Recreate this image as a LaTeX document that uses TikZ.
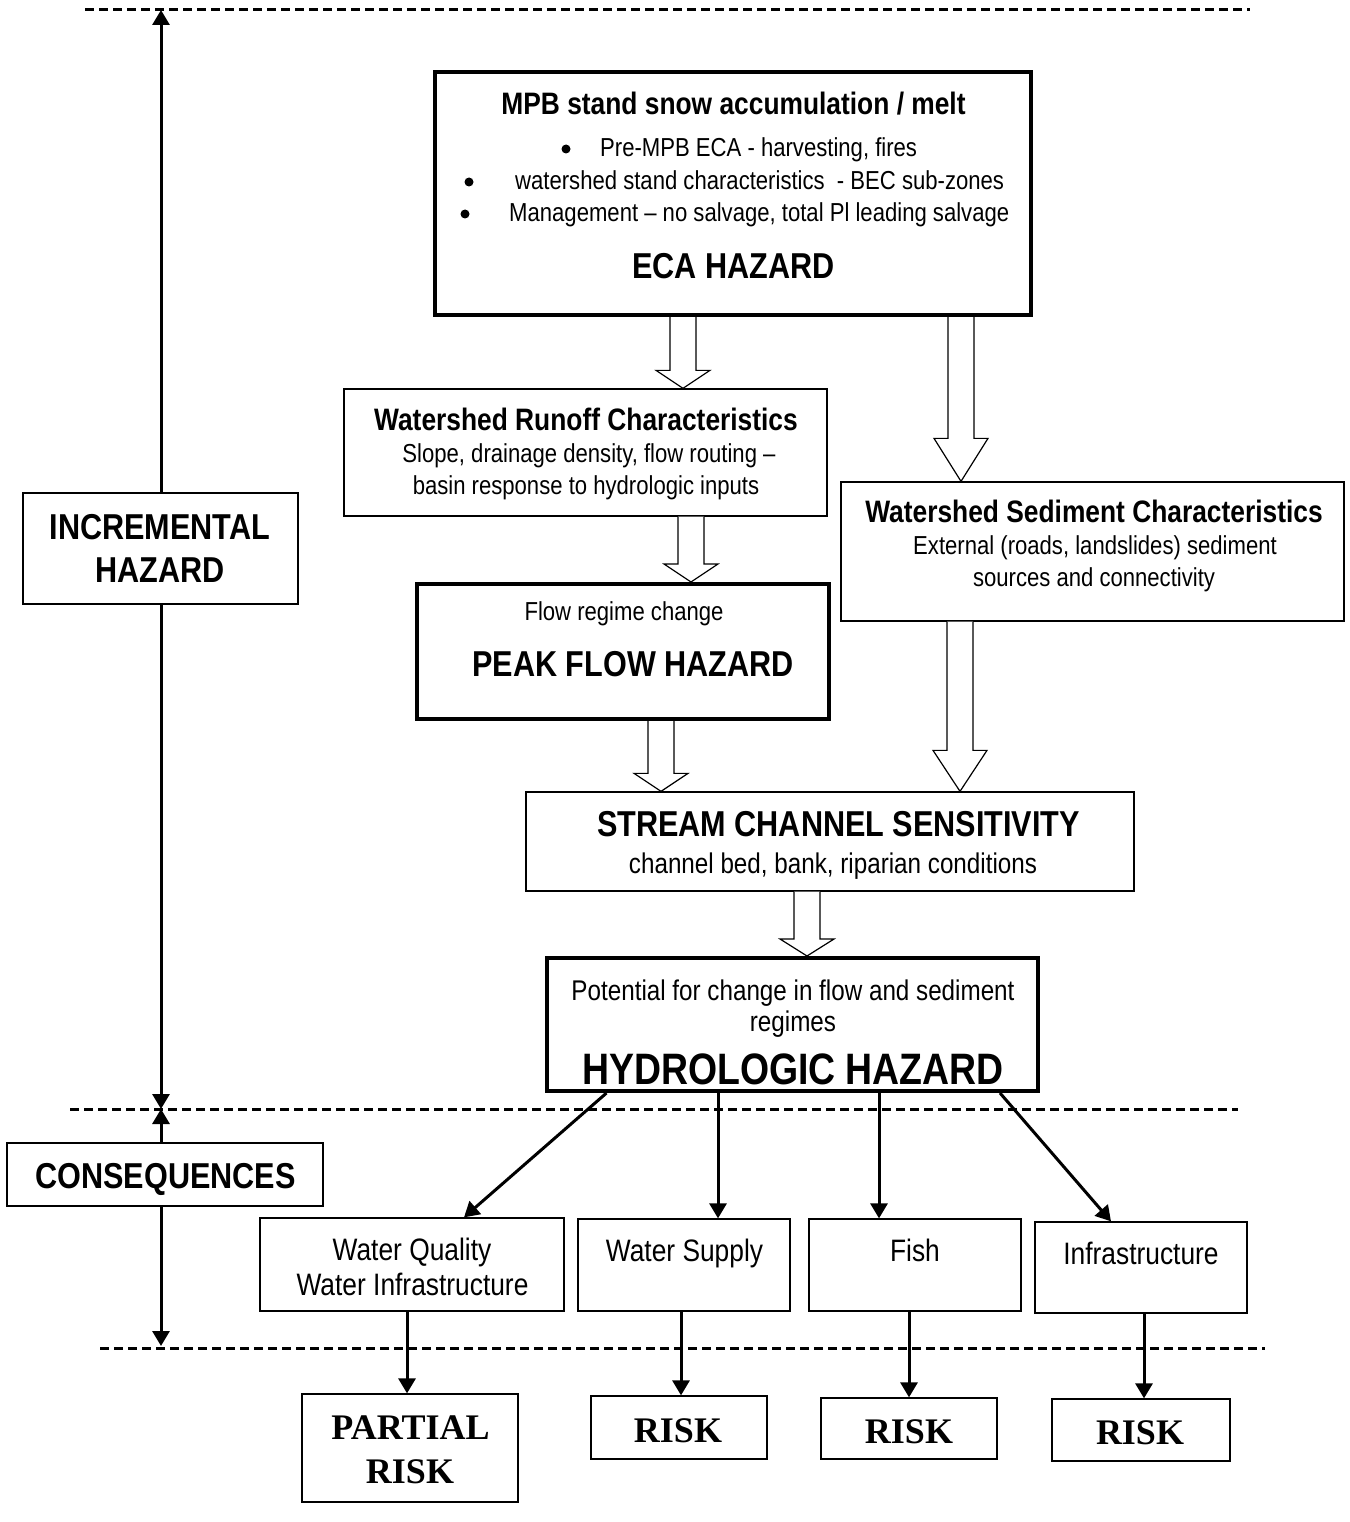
\documentclass[tikz,border=0pt]{standalone}
\usepackage{fontspec}
\setmainfont{Liberation Sans}[FakeStretch=0.85]
\newfontfamily\riskfont{Liberation Serif}
\usetikzlibrary{arrows.meta,calc}

\tikzset{
  box/.style={draw, line width=1.3pt, fill=white, inner sep=0pt},
  thickbox/.style={box, line width=4pt},
  txt/.style={anchor=base, inner sep=0pt},
  body/.style={txt, font=\fontsize{26}{26}\selectfont},
  mid/.style={txt, font=\fontsize{28.5}{28.5}\selectfont},
  cons/.style={txt, font=\fontsize{31}{31}\selectfont},
  ttl/.style={txt, font=\bfseries\fontsize{31}{31}\selectfont},
  big/.style={txt, font=\bfseries\fontsize{36}{36}\selectfont},
  risk/.style={txt, font=\riskfont\bfseries\fontsize{36}{36}\selectfont},
  bul/.style={circle, fill, inner sep=0pt, minimum size=9pt},
  sep/.style={line width=3pt, dash pattern=on 9pt off 5pt},
  arr/.style={line width=3pt, -{Triangle[length=15pt,width=17pt]}},
  fatarrow/.style={draw, line width=1.2pt, fill=white, to path={
    let \p1=(\tikztostart), \p2=(\tikztotarget) in
    (\x1-13pt,\y1) -- (\x1-13pt,\y2+#1) -- (\x1-27pt,\y2+#1) -- (\x1,\y2)
    -- (\x1+27pt,\y2+#1) -- (\x1+13pt,\y2+#1) -- (\x1+13pt,\y1)}},
  fatarrow/.default=18pt
}

\begin{document}
\begin{tikzpicture}[x=1pt,y=-1pt]
\useasboundingbox (0,0) rectangle (1349,1522);

% levels
\path[draw,sep] (85,10) -- (1250,10);
\path[draw,sep] (70,1109) -- (1238,1109);
\path[draw,sep] (100,1348) -- (1265,1348);

\coordinate (lvl-top) at (161,10);
\coordinate (lvl-mid) at (161,1109);
\coordinate (lvl-bot) at (161,1346);
\path[draw,line width=3pt,{Triangle[length=15pt,width=17pt]}-{Triangle[length=15pt,width=17pt]}] (lvl-top) -- (lvl-mid);
\path[draw,line width=3pt,{Triangle[length=15pt,width=17pt]}-{Triangle[length=15pt,width=17pt]}] (lvl-mid) -- (lvl-bot);

\node[box, minimum width=275pt, minimum height=111pt] (incr) at (160.5,548.5) {};
\node[big] (incr-t1) at (160,539) {INCREMENTAL};
\node[big] (incr-t2) at (160,582) {HAZARD};
\node[box, minimum width=316pt, minimum height=63pt] (cons) at (165,1174.5) {};
\node[big] (cons-t) at (165.5,1188) {CONSEQUENCES};

% ECA
\node[thickbox, minimum width=596pt, minimum height=243pt] (eca) at (733,193.5) {};
\node[ttl] (eca-ttl) at (733.5,115) {MPB stand snow accumulation / melt};
\node[bul] (eca-d1) at (566,149) {};
\node[body, anchor=base west] (eca-b1) at (600,157) {Pre-MPB ECA - harvesting, fires};
\node[bul] (eca-d2) at (469,182) {};
\node[body, anchor=base west] (eca-b2) at (515,190) {watershed stand characteristics~ - BEC sub-zones};
\node[bul] (eca-d3) at (465,214) {};
\node[body, anchor=base west] (eca-b3) at (509,222) {Management – no salvage, total Pl leading salvage};
\node[big] (eca-haz) at (733.5,278) {ECA HAZARD};

% runoff and sediment
\node[box, minimum width=483pt, minimum height=127pt] (runoff) at (585.5,452.5) {};
\node[ttl] (runoff-ttl) at (586,430) {Watershed Runoff Characteristics};
\node[body] (runoff-t1) at (589,462) {Slope, drainage density, flow routing –};
\node[body] (runoff-t2) at (586,494) {basin response to hydrologic inputs};

\node[box, minimum width=503pt, minimum height=139pt] (sed) at (1092.5,551.5) {};
\node[ttl] (sed-ttl) at (1094,522) {Watershed Sediment Characteristics};
\node[body] (sed-t1) at (1095,554) {External (roads, landslides) sediment};
\node[body] (sed-t2) at (1094,586) {sources and connectivity};

% peak flow
\node[thickbox, minimum width=412pt, minimum height=135pt] (peak) at (623,651.5) {};
\node[body] (peak-t) at (624,620) {Flow regime change};
\node[big] (peak-haz) at (633,676) {PEAK FLOW HAZARD};

% stream channel
\node[box, minimum width=608pt, minimum height=99pt] (stream) at (830,841.5) {};
\node[big] (stream-ttl) at (838.5,836) {STREAM CHANNEL SENSITIVITY};
\node[mid] (stream-t) at (833,873) {channel bed, bank, riparian conditions};

% hydrologic
\node[thickbox, minimum width=491pt, minimum height=133pt] (hydro) at (792.5,1024.5) {};
\node[mid] (hydro-t1) at (793,1000) {Potential for change in flow and sediment};
\node[mid] (hydro-t2) at (793,1031) {regimes};
\node[txt, font=\bfseries\fontsize{44}{44}\selectfont] (hydro-haz) at (793,1084) {HYDROLOGIC HAZARD};

% consequences
\node[box, minimum width=304pt, minimum height=93pt] (wq) at (412,1264.5) {};
\node[cons] (wq-t1) at (412,1260) {Water Quality};
\node[cons] (wq-t2) at (412.5,1295) {Water Infrastructure};
\node[box, minimum width=212pt, minimum height=92pt] (ws) at (684,1265) {};
\node[cons] (ws-t) at (684.5,1261) {Water Supply};
\node[box, minimum width=212pt, minimum height=92pt] (fish) at (915,1265) {};
\node[cons] (fish-t) at (915,1261) {Fish};
\node[box, minimum width=212pt, minimum height=91pt] (infra) at (1141,1267.5) {};
\node[cons] (infra-t) at (1141,1264) {Infrastructure};

% risk
\node[box, minimum width=216pt, minimum height=108pt] (partial) at (410,1448) {};
\node[risk] (partial-t1) at (410.5,1439) {PARTIAL};
\node[risk] (partial-t2) at (410,1483) {RISK};
\node[box, minimum width=176pt, minimum height=63pt] (risk1) at (679,1427.5) {};
\node[risk] (risk1-t) at (678,1442) {RISK};
\node[box, minimum width=176pt, minimum height=61pt] (risk2) at (909,1428.5) {};
\node[risk] (risk2-t) at (909,1443) {RISK};
\node[box, minimum width=178pt, minimum height=62pt] (risk3) at (1141,1430) {};
\node[risk] (risk3-t) at (1140,1444) {RISK};

% hazard chain
\path[fatarrow] ([xshift=-50pt]eca.south) to (runoff.north);
\path[fatarrow=43pt] ([xshift=228pt]eca.south) to (sed.north);
\path[fatarrow] ([xshift=105.5pt]runoff.south) to (peak.north);
\path[fatarrow] ([xshift=38pt]peak.south) to (stream.north);
\path[fatarrow=41pt] ([xshift=-132.5pt]sed.south) to (stream.north);
\path[fatarrow=17pt] ([xshift=-23pt]stream.south) to (hydro.north);

% hazard to consequences
\path[draw,arr] ([xshift=-186pt]hydro.south) -- ([xshift=52pt]wq.north);
\path[draw,arr] ([xshift=-74.5pt]hydro.south) -- ([xshift=-74.5pt]hydro.south |- ws.north);
\path[draw,arr] ([xshift=86.5pt]hydro.south) -- ([xshift=86.5pt]hydro.south |- fish.north);
\path[draw,arr] ([xshift=207.5pt]hydro.south) -- ([xshift=-30pt]infra.north);

% consequences to risk
\path[draw,arr] ([xshift=-5pt]wq.south) -- ([xshift=-5pt]wq.south |- partial.north);
\path[draw,arr] ([xshift=-3pt]ws.south) -- ([xshift=-3pt]ws.south |- risk1.north);
\path[draw,arr] ([xshift=-6pt]fish.south) -- ([xshift=-6pt]fish.south |- risk2.north);
\path[draw,arr] ([xshift=3pt]infra.south) -- ([xshift=3pt]infra.south |- risk3.north);
\end{tikzpicture}
\end{document}
